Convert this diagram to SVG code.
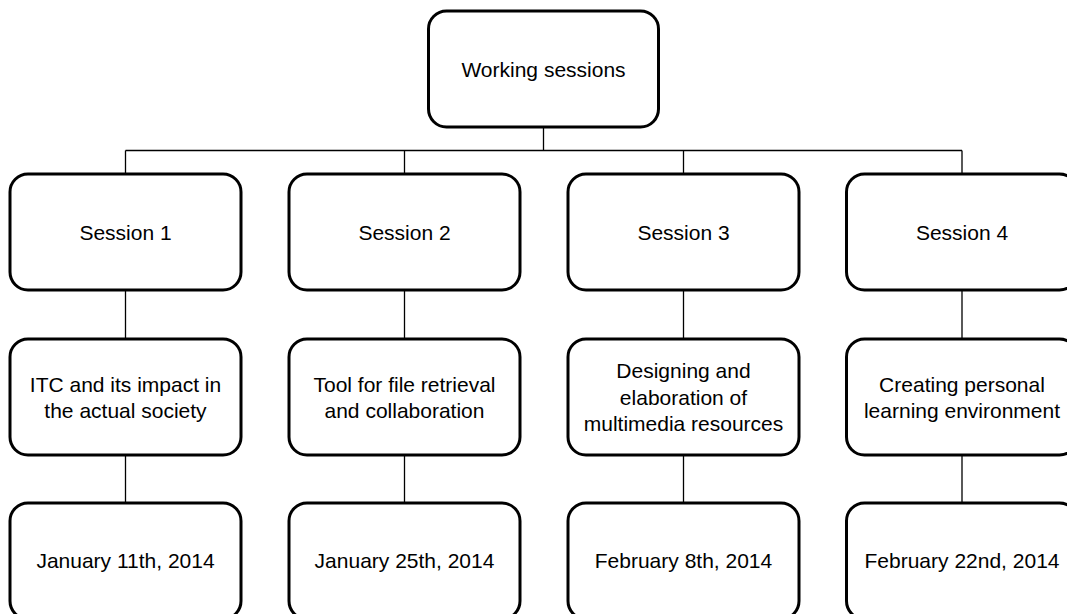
<svg xmlns="http://www.w3.org/2000/svg" width="1067" height="614" viewBox="0 0 1067 614">
<style>
.box{fill:#fff;stroke:#000;stroke-width:3}
.con{fill:none;stroke:#000;stroke-width:1.3}
text{font-family:"Liberation Sans",Arial,sans-serif;font-size:21px;fill:#000;text-anchor:middle}
</style>
<rect width="1067" height="614" fill="#fff"/>
<g id="connectors">
<path class="con" d="M543.5 127V150.5M125.5 150.5H962M125.5 150.5V174M404.5 150.5V174M683.5 150.5V174M962 150.5V174"/>
<path class="con" d="M125.5 290V339M404.5 290V339M683.5 290V339M962 290V339"/>
<path class="con" d="M125.5 455V503M404.5 455V503M683.5 455V503M962 455V503"/>
</g>
<g id="root"><rect class="box" x="428.5" y="11" width="230" height="116" rx="18"/><text x="543.5" y="76.5">Working sessions</text></g>
<g id="s1"><rect class="box" x="10" y="174" width="231" height="116" rx="18"/><text x="125.5" y="239.5">Session 1</text></g>
<g id="s2"><rect class="box" x="289" y="174" width="231" height="116" rx="18"/><text x="404.5" y="239.5">Session 2</text></g>
<g id="s3"><rect class="box" x="568" y="174" width="231" height="116" rx="18"/><text x="683.5" y="239.5">Session 3</text></g>
<g id="s4"><rect class="box" x="846.5" y="174" width="231" height="116" rx="18"/><text x="962" y="239.5">Session 4</text></g>
<g id="t1"><rect class="box" x="10" y="339" width="231" height="116" rx="18"/><text x="125.5" y="391.5">ITC and its impact in</text><text x="125.5" y="418">the actual society</text></g>
<g id="t2"><rect class="box" x="289" y="339" width="231" height="116" rx="18"/><text x="404.5" y="391.5">Tool for file retrieval</text><text x="404.5" y="418">and collaboration</text></g>
<g id="t3"><rect class="box" x="568" y="339" width="231" height="116" rx="18"/><text x="683.5" y="378">Designing and</text><text x="683.5" y="404.5">elaboration of</text><text x="683.5" y="431">multimedia resources</text></g>
<g id="t4"><rect class="box" x="846.5" y="339" width="231" height="116" rx="18"/><text x="962" y="391.5">Creating personal</text><text x="962" y="418">learning environment</text></g>
<g id="d1"><rect class="box" x="10" y="503" width="231" height="116" rx="18"/><text x="125.5" y="568">January 11th, 2014</text></g>
<g id="d2"><rect class="box" x="289" y="503" width="231" height="116" rx="18"/><text x="404.5" y="568">January 25th, 2014</text></g>
<g id="d3"><rect class="box" x="568" y="503" width="231" height="116" rx="18"/><text x="683.5" y="568">February 8th, 2014</text></g>
<g id="d4"><rect class="box" x="846.5" y="503" width="231" height="116" rx="18"/><text x="962" y="568">February 22nd, 2014</text></g>
</svg>
